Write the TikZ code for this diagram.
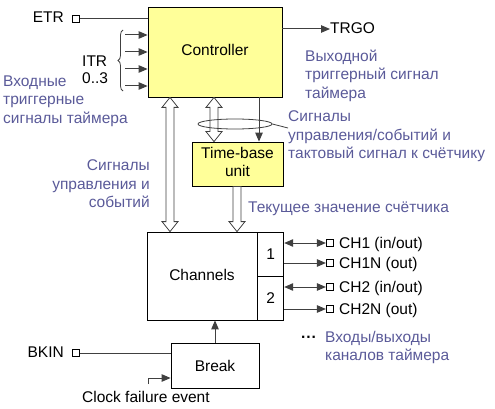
\documentclass[tikz,border=0pt]{standalone}
\usepackage{fontspec}
\setmainfont{Liberation Sans}
\usetikzlibrary{arrows.meta,calc,decorations.pathreplacing,shapes.geometric}
\definecolor{boxyellow}{HTML}{FFFF99}
\definecolor{noteblue}{HTML}{5A5A99}
\definecolor{linegray}{HTML}{404040}
\begin{document}
\begin{tikzpicture}[x=1pt,y=-1pt,
  box/.style={draw=black, line width=0.8pt, fill=boxyellow, align=center, inner sep=0pt},
  wbox/.style={draw=black, line width=0.8pt, fill=white, align=center, inner sep=0pt},
  conn/.style={draw=linegray, line width=1pt},
  tip/.style={-{Triangle[length=9pt,width=7.5pt]}},
  dtip/.style={{Triangle[length=9pt,width=7.5pt]}-{Triangle[length=9pt,width=7.5pt]}},
  pin/.style={draw=black, fill=white, minimum size=7.5pt, inner sep=0pt, line width=0.7pt},
  lbl/.style={font=\fontsize{15.5}{18.3}\selectfont, inner sep=0pt},
  note/.style={lbl, text=noteblue, align=left},
  harrow/.style={draw=linegray, fill=white, line width=0.8pt, line join=miter},
]
\useasboundingbox (0,0) rectangle (495,409);
\newcommand\hdbl[2]{\draw[harrow] (#1) -- ++(8,10) -- ++(-4,0) -- ($(#2)+(4,-10)$) -- ++(4,0) -- (#2) -- ++(-8,-10) -- ++(4,0) -- ($(#1)+(-4,10)$) -- ++(-4,0) -- cycle;}
\newcommand\hdown[2]{\draw[harrow] ($(#1)+(-4,0)$) -- ($(#1)+(4,0)$) -- ($(#2)+(4,-10)$) -- ++(4,0) -- (#2) -- ++(-8,-10) -- ++(4,0) -- cycle;}

% boxes
\node[box, minimum width=134, minimum height=90, lbl, text depth=5pt] (ctrl) at (215,52) {Controller};
\node[box, minimum width=91, minimum height=44] (tbu) at (237.5,164) {};
\node[lbl, anchor=base] (tbut1) at (237.5,158) {Time-base};
\node[lbl, anchor=base] (tbut2) at (237.5,176) {unit};
\node[wbox, minimum width=110, minimum height=88, lbl, text depth=1.5pt] (chan) at (202,276) {Channels};
\node[wbox, minimum width=26, minimum height=44, lbl, anchor=north west] (ch1) at (chan.north east) {1};
\node[wbox, minimum width=26, minimum height=44, lbl, anchor=north west, text depth=2pt] (ch2) at (ch1.south west) {2};
\node[wbox, minimum width=88, minimum height=45, lbl] (brk) at (215,365.5) {Break};

% ETR
\node[pin] (etrpin) at (76,19) {};
\node[lbl, anchor=base east] (etr) at (64,23) {ETR};
\draw[conn] (etrpin.east) -- (etrpin -| ctrl.west);

% ITR arrows
\foreach \y [count=\i] in {35,52,69,86} {
  \coordinate (itr\i) at (125,\y);
  \draw[conn, tip] (itr\i) -- (itr\i -| ctrl.west);
}
\coordinate (brb) at (123,91);
\coordinate (brt) at (123,30);
\draw[linegray, line width=0.8pt, decorate, decoration={brace, amplitude=5pt}] (brb) -- (brt);
\node[lbl, anchor=base west] (itra) at (82,67) {ITR};
\node[lbl, anchor=base west] (itrb) at (82,84) {0..3};
\node[note, anchor=north west] (inlbl) at (3,75.7) {Входные\\триггерные\\сигналы таймера};

% TRGO
\coordinate (trgoS) at (ctrl.east |- 0,29);
\node[lbl, anchor=base west] (trgo) at (330,34) {TRGO};
\draw[conn, tip] (trgoS) -- (trgoS -| trgo.west);
\node[note, anchor=north west] (outlbl) at (305,49.7) {Выходной\\триггерный сигнал\\таймера};

% hollow arrows
\coordinate (xa) at (170,0);
\coordinate (xb) at (214,0);
\coordinate (xc) at (237,0);
\hdbl{ctrl.south -| xa}{chan.north -| xa}
\hdbl{ctrl.south -| xb}{tbu.north -| xb}
\hdown{tbu.south -| xc}{chan.north -| xc}
\coordinate (xd) at (259,0);
\draw[conn, tip] (ctrl.south -| xd) -- (tbu.north -| xd);

% ellipse + callout
\node[draw=linegray, line width=0.8pt, ellipse, minimum width=74, minimum height=10, inner sep=0pt] (ell) at (235,124) {};
\coordinate (callend) at (288,128);
\draw[linegray, line width=0.8pt] (ell.east) -- (callend);
\node[note, anchor=north west] (siglbl) at (288,110.7) {Сигналы\\управления/событий и\\тактовый сигнал к счётчику};

\node[note, anchor=north east, align=right] (leftlbl) at (150,159.7) {Сигналы\\управления и\\событий};
\node[note, anchor=base west] (cntlbl) at (248,212) {Текущее значение счётчика};

% channel pins
\foreach \y/\n/\t/\s in {243/p1/{CH1 (in/out)}/dtip, 263/p2/{CH1N (out)}/tip, 287/p3/{CH2 (in/out)}/dtip, 309/p4/{CH2N (out)}/tip} {
  \node[pin] (\n) at (330,\y) {};
  \node[lbl, anchor=base west] (\n t) at (339,\y+5.5) {\t};
  \draw[conn, \s] (\n -| ch1.east) -- (\n.west);
}
\node[lbl, anchor=base west] (dots) at (301,342) {\textbf{···}};
\node[note, anchor=north west] (chlbl) at (325,330.7) {Входы/выходы\\каналов таймера};

% Break
\draw[conn, tip] (brk.north) -- (brk.north |- chan.south);
\node[pin] (bkpin) at (76,353) {};
\node[lbl, anchor=base east] (bkin) at (64,357) {BKIN};
\draw[conn] (bkpin.east) -- (bkpin -| brk.west);
\coordinate (cfs) at (148,384);
\draw[conn, tip] (cfs) |- (brk.west |- 0,378);
\node[lbl, anchor=base west] (cfe) at (82,402) {Clock failure event};
\end{tikzpicture}
\end{document}
